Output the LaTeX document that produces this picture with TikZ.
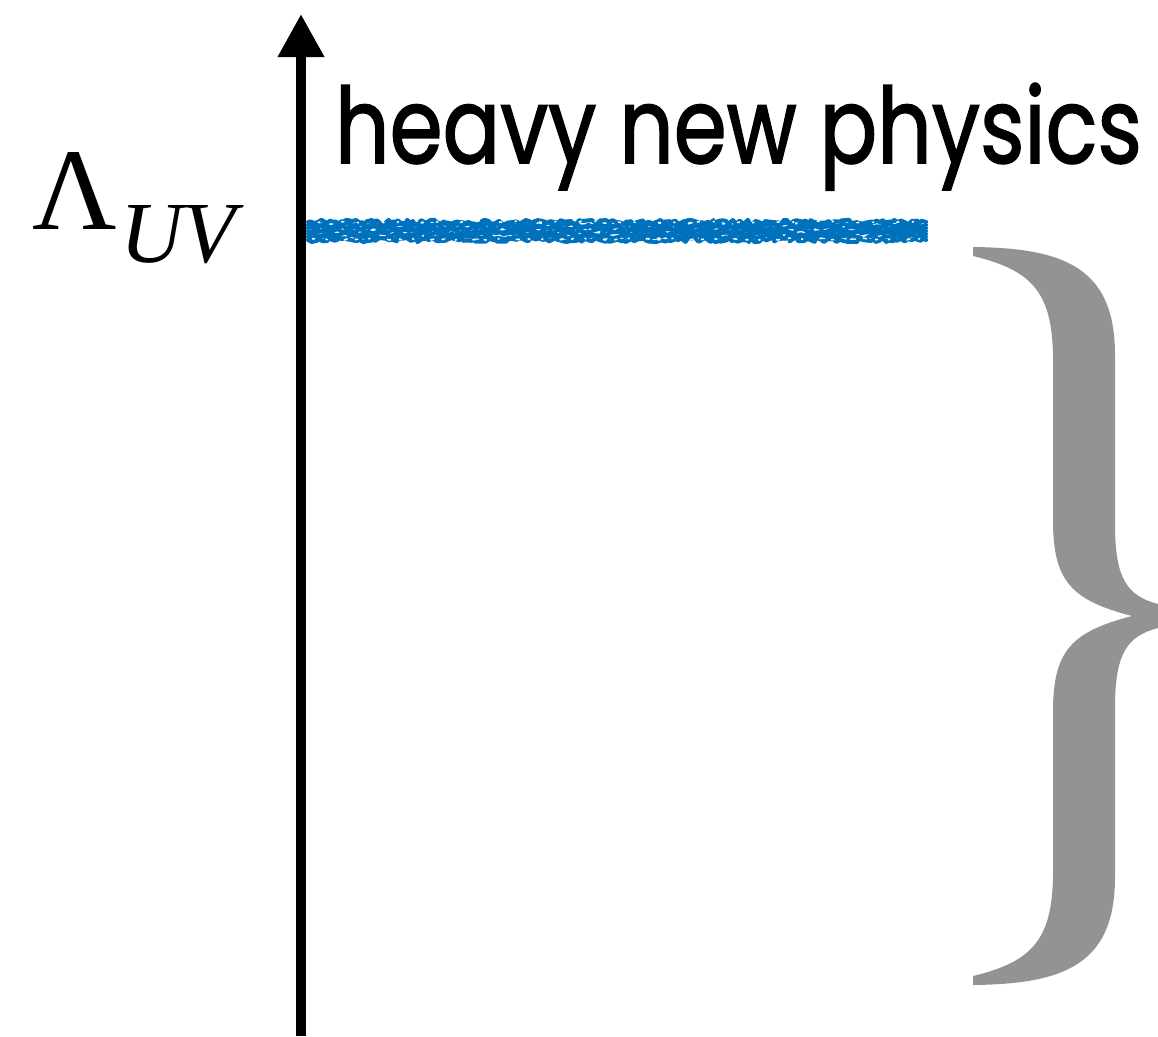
\documentclass[tikz,border=0pt]{standalone}
\usepackage{fontspec}
\setmainfont{Liberation Serif}
\newfontfamily\headfont[FakeBold=1.6]{Poppins}
\usetikzlibrary{arrows.meta,decorations.pathmorphing}
\definecolor{roughblue}{RGB}{0,114,189}
\definecolor{bracegray}{RGB}{147,147,147}
\tikzset{
  axisline/.style={line width=10pt,-{Triangle[width=44pt,length=43pt]}},
  roughline/.style={draw=roughblue,line width=4pt,line join=round,line cap=round,decorate,decoration={random steps,segment length=3pt,amplitude=2.2pt}},
  speckline/.style={draw=white,line width=1.5pt,decorate,decoration={random steps,segment length=3pt,amplitude=1pt}},
  plaintext/.style={inner sep=0pt,outer sep=0pt},
}
\begin{document}
\begin{tikzpicture}[x=1pt,y=-1pt]
\useasboundingbox (0,0) rectangle (1158,1036);
\coordinate (axbot) at (301,1036);
\coordinate (axtop) at (301,14);
\draw[axisline] (axbot) -- (axtop);
\node[plaintext,anchor=base west] (heavy) at (335,163)
  {\resizebox{807pt}{\height}{\headfont\fontsize{105}{105}\selectfont heavy new physics}};
\node[plaintext,anchor=south west] (lam) at (32,229)
  {\resizebox{!}{77pt}{Λ}};
\node[plaintext,anchor=north west] (uv) at (120,205)
  {\resizebox{!}{57pt}{\itshape UV}};
\pgfmathsetseed{7}
\foreach \yy in {222,225,228,231,234,237,240}{
  \draw[roughline] (308,\yy) -- (926,\yy);
}
\draw[speckline,dash pattern=on 3pt off 11pt on 2pt off 17pt on 4pt off 8pt] (312,239) -- (920,239);
\draw[speckline,dash pattern=on 2pt off 23pt on 3pt off 13pt] (318,222) -- (915,222);
\fill[bracegray] (973,247)
  .. controls (1065,248) and (1115,268) .. (1115,355)
  -- (1115,525)
  .. controls (1115,580) and (1128,596) .. (1158,604)
  -- (1158,628)
  .. controls (1128,636) and (1115,652) .. (1115,707)
  -- (1115,877)
  .. controls (1115,964) and (1065,984) .. (973,985)
  -- (973,976)
  .. controls (1030,962) and (1053,942) .. (1053,872)
  -- (1053,712)
  .. controls (1053,652) and (1070,632) .. (1132,616)
  .. controls (1070,600) and (1053,580) .. (1053,520)
  -- (1053,360)
  .. controls (1053,290) and (1030,270) .. (973,256)
  -- cycle;
\end{tikzpicture}
\end{document}
